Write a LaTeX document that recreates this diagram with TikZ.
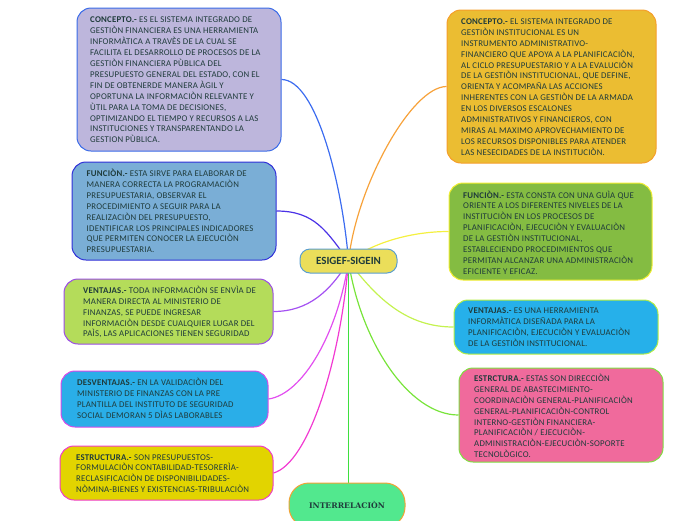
\documentclass[tikz,border=0pt]{standalone}
\usepackage{fontspec}
\setmainfont{Carlito}
\newfontfamily\boxfont[LetterSpace=2.5]{Carlito}
\newfontfamily\slabfont{DejaVu Serif}
\usetikzlibrary{backgrounds}
\definecolor{txtcol}{HTML}{1F3B3B}
\definecolor{lcF}{HTML}{BDB6DC}\definecolor{lcD}{HTML}{3A6BE8}
\definecolor{lfF}{HTML}{7AAED6}\definecolor{lfD}{HTML}{2F2FD8}
\definecolor{lvF}{HTML}{B4DC5A}\definecolor{lvD}{HTML}{9B4BE6}
\definecolor{ldF}{HTML}{2AAEE8}\definecolor{ldD}{HTML}{D84AE8}
\definecolor{leF}{HTML}{E2D400}\definecolor{leD}{HTML}{F03CC8}
\definecolor{rcF}{HTML}{EBBD32}\definecolor{rcD}{HTML}{F59E2A}
\definecolor{rfF}{HTML}{84BC42}\definecolor{rfD}{HTML}{F2EE30}
\definecolor{rvF}{HTML}{26B0EA}\definecolor{rvD}{HTML}{B6EE42}
\definecolor{rsF}{HTML}{F06A9C}\definecolor{rsD}{HTML}{7EE040}
\definecolor{hubF}{HTML}{EBDE5A}\definecolor{hubD}{HTML}{5A9ECF}
\definecolor{inF}{HTML}{52E88E}\definecolor{inD}{HTML}{F2A234}
\definecolor{lcL}{HTML}{3C6CF0}\definecolor{lfL}{HTML}{4B32E6}
\definecolor{lvL}{HTML}{A451F2}\definecolor{ldL}{HTML}{E24EF0}
\definecolor{leL}{HTML}{F23AD2}\definecolor{rcL}{HTML}{F7A23A}
\definecolor{rfL}{HTML}{F4F040}\definecolor{rvL}{HTML}{C4F250}
\definecolor{rsL}{HTML}{78E43A}\definecolor{inL}{HTML}{3EE03E}
\tikzset{
  box/.style={draw, line width=1pt, rounded corners=14pt, inner sep=0pt},
  txt/.style={anchor=west, inner sep=0pt, align=left, text=txtcol,
    font=\boxfont\fontsize{8.8}{10.9}\selectfont},
  link/.style={line width=1.2pt},
}
\begin{document}
\begin{tikzpicture}[x=1pt,y=1pt]
\useasboundingbox (0,0) rectangle (696,-520);
% left column
\node[box, fill=lcF, draw=lcD, minimum width=204pt, minimum height=143pt] (lc) at (179,-79.5) {};
\node[txt] (lct) at (90,-80) {\textbf{CONCEPTO.-} ES EL SISTEMA INTEGRADO DE\\
GESTIÒN FINANCIERA ES UNA HERRAMIENTA\\
INFORMÀTICA A TRAVÈS DE LA CUAL SE\\
FACILITA EL DESARROLLO DE PROCESOS DE LA\\
GESTIÒN FINANCIERA PÙBLICA DEL\\
PRESUPUESTO GENERAL DEL ESTADO, CON EL\\
FIN DE OBTENERDE MANERA ÀGIL Y\\
OPORTUNA LA INFORMACIÒN RELEVANTE Y\\
ÙTIL PARA LA TOMA DE DECISIONES,\\
OPTIMIZANDO EL TIEMPO Y RECURSOS A LAS\\
INSTITUCIONES Y TRANSPARENTANDO LA\\
GESTION PÙBLICA.};
\node[box, fill=lfF, draw=lfD, minimum width=204pt, minimum height=98pt] (lf) at (174,-211) {};
\node[txt] (lft) at (86.5,-211) {\textbf{FUNCIÒN.-} ESTA SIRVE PARA ELABORAR DE\\
MANERA CORRECTA LA PROGRAMACIÒN\\
PRESUPUESTARIA, OBSERVAR EL\\
PROCEDIMIENTO A SEGUIR PARA LA\\
REALIZACIÒN DEL PRESUPUESTO,\\
IDENTIFICAR LOS PRINCIPALES INDICADORES\\
QUE PERMITEN CONOCER LA EJECUCIÒN\\
PRESUPUESTARIA.};
\node[box, fill=lvF, draw=lvD, minimum width=209pt, minimum height=65pt] (lv) at (168.5,-311.5) {};
\node[txt] (lvt) at (83,-312) {\textbf{VENTAJAS.-} TODA INFORMACIÒN SE ENVÌA DE\\
MANERA DIRECTA AL MINISTERIO DE\\
FINANZAS, SE PUEDE INGRESAR\\
INFORMACIÒN DESDE CUALQUIER LUGAR DEL\\
PAÌS, LAS APLICACIONES TIENEN SEGURIDAD};
\node[box, fill=ldF, draw=ldD, minimum width=207pt, minimum height=56pt] (ld) at (164.5,-399) {};
\node[txt] (ldt) at (77,-398) {\textbf{DESVENTAJAS.-} EN LA VALIDACIÒN DEL\\
MINISTERIO DE FINANZAS CON LA PRE\\
PLANTILLA DEL INSTITUTO DE SEGURIDAD\\
SOCIAL DEMORAN 5 DÌAS LABORABLES};
\node[box, fill=leF, draw=leD, minimum width=213pt, minimum height=54pt] (le) at (166.5,-473) {};
\node[txt] (let) at (76,-473.5) {\textbf{ESTRUCTURA.-} SON PRESUPUESTOS-\\
FORMULACIÒN CONTABILIDAD-TESORERÌA-\\
RECLASIFICACIÒN DE DISPONIBILIDADES-\\
NÒMINA-BIENES Y EXISTENCIAS-TRIBULACIÒN};
% right column
\node[box, fill=rcF, draw=rcD, minimum width=209pt, minimum height=153pt] (rc) at (551.5,-86.5) {};
\node[txt] (rct) at (461,-87) {\textbf{CONCEPTO.-} EL SISTEMA INTEGRADO DE\\
GESTIÒN INSTITUCIONAL ES UN\\
INSTRUMENTO ADMINISTRATIVO-\\
FINANCIERO QUE APOYA A LA PLANIFICACIÒN,\\
AL CICLO PRESUPUESTARIO Y A LA EVALUCIÒN\\
DE LA GESTIÒN INSTITUCIONAL, QUE DEFINE,\\
ORIENTA Y ACOMPAÑA LAS ACCIONES\\
INHERENTES CON LA GESTIÒN DE LA ARMADA\\
EN LOS DIVERSOS ESCALONES\\
ADMINISTRATIVOS Y FINANCIEROS, CON\\
MIRAS AL MAXIMO APROVECHAMIENTO DE\\
LOS RECURSOS DISPONIBLES PARA ATENDER\\
LAS NESECIDADES DE LA INSTITUCIÒN.};
\node[box, fill=rfF, draw=rfD, minimum width=203pt, minimum height=97pt] (rf) at (550.5,-231.5) {};
\node[txt] (rft) at (463,-232.5) {\textbf{FUNCIÒN.-} ESTA CONSTA CON UNA GUÌA QUE\\
ORIENTE A LOS DIFERENTES NIVELES DE LA\\
INSTITUCIÒN EN LOS PROCESOS DE\\
PLANIFICACIÒN, EJECUCIÒN Y EVALUACIÒN\\
DE LA GESTIÒN INSTITUCIONAL,\\
ESTABLECIENDO PROCEDIMIENTOS QUE\\
PERMITAN ALCANZAR UNA ADMINISTRACIÒN\\
EFICIENTE Y EFICAZ.};
\node[box, fill=rvF, draw=rvD, minimum width=204pt, minimum height=54pt] (rv) at (556,-327) {};
\node[txt] (rvt) at (468,-327) {\textbf{VENTAJAS.-} ES UNA HERRAMIENTA\\
INFORMÀTICA DISEÑADA PARA LA\\
PLANIFICACIÒN, EJECUCIÒN Y EVALUACIÒN\\
DE LA GESTIÒN INSTITUCIONAL.};
\node[box, fill=rsF, draw=rsD, minimum width=204pt, minimum height=94pt] (rs) at (561,-415) {};
\node[txt] (rst) at (474,-416) {\textbf{ESTRCTURA.-} ESTAS SON DIRECCIÒN\\
GENERAL DE ABASTECIMIENTO-\\
COORDINACIÒN GENERAL-PLANIFICACIÒN\\
GENERAL-PLANIFICACIÒN-CONTROL\\
INTERNO-GESTIÒN FINANCIERA-\\
PLANIFICACIÒN / EJECUCIÒN-\\
ADMINISTRACIÒN-EJECUCIÒN-SOPORTE\\
TECNOLÒGICO.};
% hub and bottom
\node[draw=hubD, fill=hubF, line width=1pt, rounded corners=10pt, minimum width=97pt,
  minimum height=24pt, inner sep=0pt, text=txtcol, font=\fontsize{11}{12}\selectfont\bfseries]
  (hub) at (348.5,-261) {ESIGEF-SIGEIN};
\node[draw=inD, fill=inF, line width=1pt, rounded corners=20pt, minimum width=116pt,
  minimum height=44pt, inner sep=0pt, text=txtcol, font=\fontsize{7.7}{9}\slabfont\bfseries]
  (inter) at (347,-505) {INTERRELACIÒN};
% connectors
\begin{scope}[on background layer]
\draw[link, lcL] (lc.east) .. controls +(35,0) and +(-6,75) .. (hub.center);
\draw[link, lfL] (lf.east) .. controls +(38,0) and +(-22,30) .. (hub.center);
\draw[link, lvL] (lv.east) .. controls +(35,0) and +(-18,-30) .. (hub.center);
\draw[link, ldL] (ld.east) .. controls +(35,5) and +(-10,-70) .. (hub.center);
\draw[link, leL] (le.east) .. controls +(35,10) and +(-8,-100) .. (hub.center);
\draw[link, rcL] (hub.center) .. controls +(8,75) and +(-35,0) .. (rc.west);
\draw[link, rfL] (hub.center) .. controls +(30,22) and +(-30,0) .. (rf.west);
\draw[link, rvL] (hub.center) .. controls +(30,-40) and +(-45,0) .. (rv.west);
\draw[link, rsL] (hub.center) .. controls +(12,-80) and +(-50,0) .. (rs.west);
\draw[link, inL] (hub.center) -- (hub.center |- inter.north);
\end{scope}
\end{tikzpicture}
\end{document}
